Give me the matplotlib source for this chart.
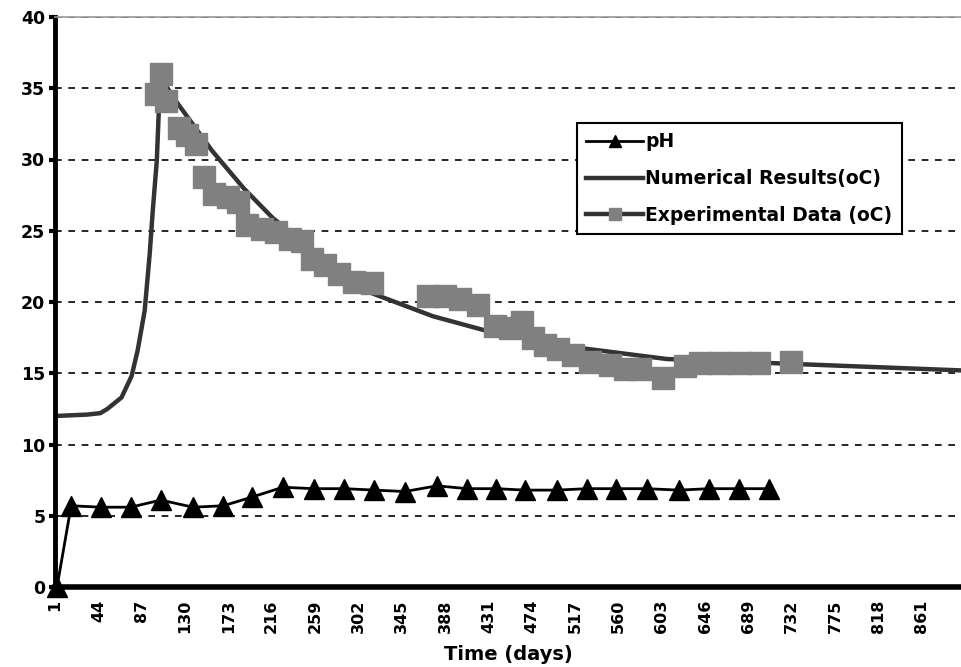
import matplotlib
matplotlib.use("Agg")
import matplotlib.pyplot as plt
from matplotlib.lines import Line2D

plt.rcParams['font.family'] = ['DejaVu Sans']
plt.rcParams['font.weight'] = 'bold'

# --- data ---
ph_days = [3, 17, 47, 76, 106, 138, 168, 196, 227, 258, 288, 318, 348, 380,
           410, 439, 467, 499, 529, 558, 588, 620, 650, 680, 709]
ph_values = [0.0, 5.7, 5.6, 5.6, 6.1, 5.6, 5.7, 6.3, 7.0, 6.9, 6.9, 6.8, 6.7,
             7.1, 6.9, 6.9, 6.8, 6.8, 6.9, 6.9, 6.9, 6.8, 6.9, 6.9, 6.9]

num_days = [1, 33, 46, 53, 67, 77, 83, 90, 95, 98, 102, 104, 110, 122, 157,
            188, 217, 254, 316, 376, 428, 519, 608, 717, 790, 900]
num_values = [12.0, 12.1, 12.2, 12.5, 13.3, 14.8, 16.6, 19.4, 23.4, 26.4,
              29.9, 33.4, 35.3, 34.0, 30.6, 28.0, 25.9, 23.8, 20.6, 19.0,
              18.0, 16.8, 16.0, 15.7, 15.5, 15.2]

exp_days = [101, 106, 111, 124, 132, 141, 149, 159, 173, 183, 192, 206, 220,
            234, 246, 256, 269, 283, 298, 316, 371, 388, 403, 421, 438, 452,
            464, 475, 487, 500, 515, 532, 552, 567, 581, 604, 626, 641, 661,
            681, 700, 731]
exp_values = [34.6, 36.0, 34.1, 32.2, 31.7, 31.1, 28.8, 27.6, 27.4, 27.0,
              25.4, 25.1, 24.9, 24.4, 24.3, 23.0, 22.6, 22.0, 21.4, 21.3,
              20.4, 20.4, 20.2, 19.8, 18.3, 18.2, 18.6, 17.5, 17.0, 16.7,
              16.3, 15.8, 15.6, 15.3, 15.3, 14.7, 15.5, 15.7, 15.7, 15.7,
              15.7, 15.8]

x_labels = list(range(1, 862, 43))
x_marks = [112, 236, 360, 483, 608, 732, 857]
y_ticks = list(range(0, 41, 5))

fig = plt.figure(figsize=(9.61, 6.67), dpi=100)
ax = fig.add_axes([55 / 961, 1 - 587 / 667, 1 - 55 / 961, (587 - 17) / 667])

# Numerical curve under the squares, pH on top
ax.plot(num_days, num_values, color='#333333', lw=3.2, zorder=2,
        solid_joinstyle='round')
ax.plot(exp_days, exp_values, ls='none', marker='s', ms=16,
        color='#808080', mec='#808080', zorder=3)
ax.plot(ph_days, ph_values, color='black', lw=2, marker='^', ms=14,
        mec='black', mfc='black', zorder=4, clip_on=False)

ax.set_xlim(1, 900)
ax.set_ylim(0, 40)

ax.set_yticks(y_ticks)
ax.set_xticks(x_labels)
ax.set_xticklabels([str(v) for v in x_labels], rotation=90)
ax.set_xticks(x_marks, minor=True)
ax.tick_params(axis='x', which='major', length=0, pad=9, labelsize=11.5)
ax.tick_params(axis='x', which='minor', length=7, width=1, color='white',
               direction='inout')
ax.tick_params(axis='y', length=4, width=3, pad=3, labelsize=12.5)

ax.yaxis.grid(True, ls=(0, (4, 4)), color='black', lw=1.2)
ax.set_axisbelow(True)

ax.spines['left'].set_linewidth(3.5)
ax.spines['bottom'].set_linewidth(4)
ax.spines['right'].set_visible(False)
ax.spines['top'].set_color('#999999')
ax.spines['top'].set_linewidth(1.2)

ax.set_xlabel('Time (days)', fontsize=14, fontweight='bold', labelpad=9)

handles = [
    Line2D([], [], color='black', lw=2, marker='^', ms=9, mfc='black'),
    Line2D([], [], color='#333333', lw=3.2),
    Line2D([], [], color='#333333', lw=3.2, marker='s', ms=8,
           mfc='#808080', mec='#808080'),
]
leg = ax.legend(handles, ['pH', 'Numerical Results(oC)', 'Experimental Data (oC)'],
                loc='upper left', bbox_to_anchor=(577 / 961, 1 - 123 / 667),
                bbox_transform=fig.transFigure, borderaxespad=0,
                fontsize=13.5, frameon=True, fancybox=False, framealpha=1,
                edgecolor='black', handlelength=3.0, handletextpad=0.15,
                labelspacing=0.95, borderpad=0.5)
leg.get_frame().set_linewidth(1.5)
for t in leg.get_texts():
    t.set_fontweight('bold')

fig.savefig('out.png', dpi=100)
